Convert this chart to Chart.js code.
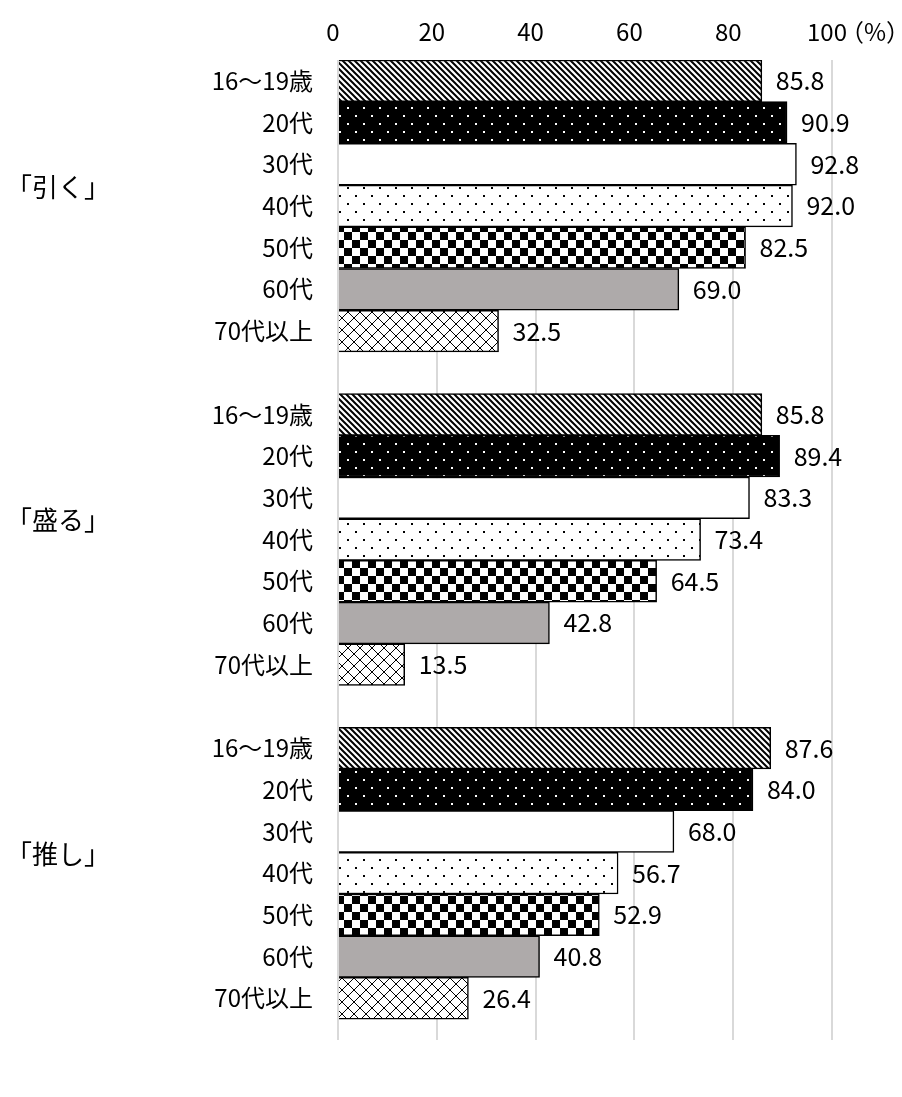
<!DOCTYPE html>
<html>
<head>
<meta charset="utf-8">
<script src="https://cdn.jsdelivr.net/npm/chart.js@4"></script>
<style>
  html, body { margin: 0; padding: 0; background: #fff; }
  #wrap { width: 902px; height: 1097px; }
</style>
</head>
<body>
<div id="wrap"><canvas id="chart_1"></canvas></div>
<script>
// data
const ages = ['16～19歳', '20代', '30代', '40代', '50代', '60代', '70代以上'];
const groups = ['「引く」', '「盛る」', '「推し」'];
const hiku = [85.8, 90.9, 92.8, 92.0, 82.5, 69.0, 32.5];
const moru = [85.8, 89.4, 83.3, 73.4, 64.5, 42.8, 13.5];
const oshi = [87.6, 84.0, 68.0, 56.7, 52.9, 40.8, 26.4];
const xTicks = [0, 20, 40, 60, 80, 100];

const FONT = '"Noto Sans CJK JP", "Noto Sans", sans-serif';

// one row per age, an empty row between the groups
const rowLabels = [...ages, '', ...ages, '', ...ages];
const points = [];
[hiku, moru, oshi].forEach((vals, g) => {
  vals.forEach((v, i) => points.push({ x: v, y: g * (ages.length + 1) + i }));
});

// fill patterns
const baseCtx = document.getElementById('chart_1').getContext('2d');
function makePattern(w, h, draw) {
  const c = document.createElement('canvas');
  c.width = w;
  c.height = h;
  const p = c.getContext('2d');
  draw(p, w, h);
  return baseCtx.createPattern(c, 'repeat');
}

const diagonal = makePattern(6, 6, (p, w, h) => {
  p.fillStyle = '#fff';
  p.fillRect(0, 0, w, h);
  p.strokeStyle = '#000';
  p.lineWidth = 2;
  p.beginPath();
  p.moveTo(-1, -1); p.lineTo(w + 1, h + 1);
  p.moveTo(w - 2, -2); p.lineTo(w + 2, 2);
  p.moveTo(-2, h - 2); p.lineTo(2, h + 2);
  p.stroke();
});
const dotsOnBlack = makePattern(16, 16, (p, w, h) => {
  p.fillStyle = '#000';
  p.fillRect(0, 0, w, h);
  p.fillStyle = '#fff';
  p.fillRect(3, 3, 2, 2);
  p.fillRect(11, 11, 2, 2);
});
const dotsOnWhite = makePattern(16, 16, (p, w, h) => {
  p.fillStyle = '#fff';
  p.fillRect(0, 0, w, h);
  p.fillStyle = '#000';
  p.fillRect(3, 3, 2, 2);
  p.fillRect(11, 11, 2, 2);
});
const checker = makePattern(16, 16, (p, w, h) => {
  p.fillStyle = '#fff';
  p.fillRect(0, 0, w, h);
  p.fillStyle = '#000';
  p.fillRect(0, 0, 8, 8);
  p.fillRect(8, 8, 8, 8);
});
const lattice = makePattern(12, 12, (p, w, h) => {
  p.fillStyle = '#fff';
  p.fillRect(0, 0, w, h);
  p.strokeStyle = '#000';
  p.lineWidth = 1;
  p.beginPath();
  p.moveTo(0, 0); p.lineTo(w, h);
  p.moveTo(w, 0); p.lineTo(0, h);
  p.stroke();
});

const ageFills = [diagonal, dotsOnBlack, '#ffffff', dotsOnWhite, checker, '#aeaaaa', lattice];
const fills = points.map((d, i) => ageFills[i % ages.length]);

// value labels, group names and the unit
const labelPlugin = {
  id: 'labelPlugin',
  afterDatasetsDraw(chart) {
    const { ctx, chartArea, scales: { x, y } } = chart;
    const meta = chart.getDatasetMeta(0);
    ctx.save();
    ctx.fillStyle = '#000';
    ctx.textBaseline = 'middle';
    ctx.textAlign = 'left';
    ctx.font = '25px ' + FONT;
    meta.data.forEach((bar, i) => {
      ctx.fillText(points[i].x.toFixed(1), bar.x + 14, bar.y);
    });

    ctx.font = '26px ' + FONT;
    groups.forEach((g, k) => {
      const mid = y.getPixelForValue(k * (ages.length + 1) + 3);
      ctx.fillText(g, 6, mid - 19);
    });

    ctx.font = '24px ' + FONT;
    ctx.fillText('（%）', x.getPixelForValue(100) + 8, chartArea.top - 28);
    ctx.restore();
  }
};

const config = {
  type: 'bar',
  data: {
    datasets: [{
      data: points,
      backgroundColor: fills,
      borderColor: '#000',
      borderWidth: 1.5,
      barPercentage: 1,
      categoryPercentage: 1
    }]
  },
  options: {
    indexAxis: 'y',
    responsive: true,
    maintainAspectRatio: false,
    animation: false,
    layout: { padding: { left: 0, right: 70, top: 0, bottom: 57 } },
    plugins: {
      legend: { display: false },
      tooltip: { enabled: false }
    },
    scales: {
      x: {
        position: 'top',
        min: 0,
        max: 100,
        afterBuildTicks: s => { s.ticks = xTicks.map(v => ({ value: v })); },
        afterFit: s => { s.height = 60; },
        grid: { color: '#d9d9d9', lineWidth: 2, drawTicks: false },
        border: { display: false },
        ticks: {
          color: '#000',
          padding: 14,
          labelOffset: -5,
          font: { family: FONT, size: 24 }
        }
      },
      y: {
        type: 'linear',
        reverse: true,
        offset: false,
        min: -0.5,
        max: rowLabels.length,
        afterBuildTicks: s => { s.ticks = rowLabels.map((l, i) => ({ value: i })); },
        afterFit: s => { s.width = 338; },
        grid: { display: false, drawTicks: false, offset: false },
        border: { display: false },
        ticks: {
          autoSkip: false,
          color: '#000',
          padding: 25,
          font: { family: FONT, size: 24 },
          callback: v => rowLabels[v] || ''
        }
      }
    }
  },
  plugins: [labelPlugin]
};

const chart_1 = new Chart(document.getElementById('chart_1'), config);
</script>
</body>
</html>
